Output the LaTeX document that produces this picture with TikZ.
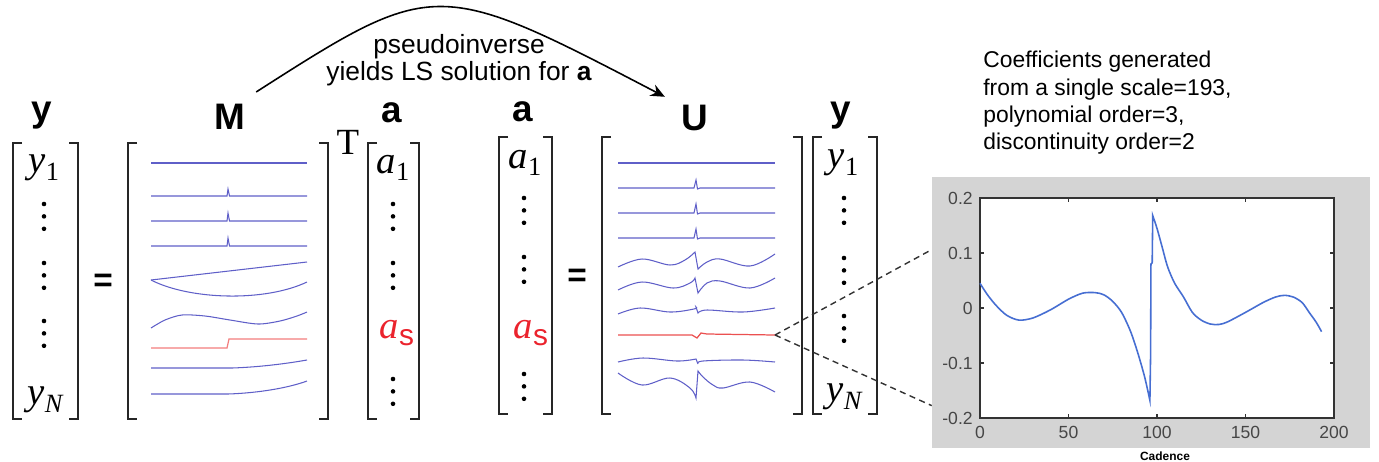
\documentclass[tikz,border=0pt]{standalone}
\usepackage{fontspec}
\setmainfont{Liberation Sans}
\newfontfamily\tms{Liberation Serif}
\usetikzlibrary{arrows.meta}

\definecolor{rowblue}{RGB}{95,95,200}
\definecolor{mred}{RGB}{242,125,125}
\definecolor{ured}{RGB}{235,80,80}
\definecolor{asred}{RGB}{235,35,45}
\definecolor{plotblue}{RGB}{70,110,210}
\definecolor{boxgray}{RGB}{212,212,212}
\definecolor{ticktext}{RGB}{70,70,70}

\newcommand{\vent}[2]{#1\raisebox{-0.2em}{\fontsize{15}{15}\selectfont\upshape #2}}
\newcommand{\vbrackets}[4]{%
  \draw[brk] (#1+9,#3) -- (#1,#3) -- (#1,#4) -- (#1+9,#4);
  \draw[brk] (#2-9,#3) -- (#2,#3) -- (#2,#4) -- (#2-9,#4);}
\newcommand{\vdotcol}[2]{%
  \foreach \k in {0,1,2} \fill (#1,#2+12.4*\k) circle (1.3pt);}

\tikzset{
  brk/.style={line width=1.6pt, black!85, line join=miter},
  lab/.style={font=\bfseries\fontsize{21}{21}\selectfont, inner sep=0pt},
  ent/.style={font=\tms\itshape\fontsize{22}{22}\selectfont, inner sep=0pt},
  eqsign/.style={font=\bfseries\fontsize{19}{19}\selectfont, inner sep=0pt},
  mrow/.style={rowblue, line width=0.6pt},
  arr/.style={-{Stealth[length=8pt,width=7pt]}, line width=0.9pt},
  dashln/.style={black!80, line width=0.8pt, dash pattern=on 3.5pt off 2.5pt},
  axisline/.style={black!80, line width=0.6pt},
  ticklab/.style={font=\fontsize{10}{10}\selectfont, text=ticktext, inner sep=0pt},
  plotline/.style={plotblue, line width=0.9pt}
}

\begin{document}
\begin{tikzpicture}[x=0.02cm, y=-0.02cm]
\useasboundingbox (0,0) rectangle (1379,461);

% labels over the vectors
\node[lab] (yL)   at (42,116)  {y};
\node[lab] (Mlab) at (230,117) {M};
\node[lab] (aL)   at (392,113) {a};
\node[lab] (aR)   at (523,112) {a};
\node[lab] (Ulab) at (695,118) {U};
\node[lab] (yR)   at (841,116) {y};

% brackets
\vbrackets{13}{78}{143}{419}
\vbrackets{128}{328}{143}{419}
\vbrackets{368}{419}{143}{419}
\vbrackets{499}{552}{137}{414}
\vbrackets{602}{802}{137}{414}
\vbrackets{813}{877}{137}{414}

\node[eqsign] (eqL) at (103,283) {=};
\node[eqsign] (eqR) at (577,278) {=};
\node[font=\tms\fontsize{21}{21}\selectfont, inner sep=0pt] (Tsup) at (348,142) {T};

% y on the left
\node[ent] (y1L) at (44,168) {\vent{y}{1}};
\vdotcol{44}{204}
\vdotcol{44}{263}
\vdotcol{44}{321}
\node[ent] (yNL) at (45,400) {\vent{y}{\itshape N}};

% a after M^T
\node[ent] (a1L) at (393,168) {\vent{a}{1}};
\vdotcol{393}{204}
\vdotcol{393}{263}
\node[ent, text=asred] (asL) at (397,333) {\vent{a}{\rmfamily\fontsize{17}{17}\selectfont s}};
\vdotcol{393}{379}

% a before U
\node[ent] (a1R) at (525,163) {\vent{a}{1}};
\vdotcol{524}{198}
\vdotcol{524}{257}
\node[ent, text=asred] (asR) at (531,333) {\vent{a}{\rmfamily\fontsize{17}{17}\selectfont s}};
\vdotcol{524}{374}

% y on the right
\node[ent] (y1R) at (843,163) {\vent{y}{1}};
\vdotcol{844}{198}
\vdotcol{844}{258}
\vdotcol{844}{316}
\node[ent] (yNR) at (844,397) {\vent{y}{\itshape N}};

% rows of M
\draw[mrow] (151,163) -- (307,163);
\foreach \yy/\h in {196/7, 221/8, 246/8}
  \draw[mrow] (151,\yy) -- (227,\yy) -- (228,\yy-\h) -- (229.5,\yy) -- (307,\yy);
\draw[mrow] (151,280) -- (307,262);
\draw[mrow] (151,280) .. controls (190,300) and (265,302) .. (307,282);
\draw[mrow] plot[smooth] coordinates {(151,328) (165,320) (182,315) (205,316) (230,320) (258,324) (280,321) (297,316) (307,312)};
\draw[mred, line width=0.7pt] (151,348) -- (227,348) -- (229,339) -- (307,339);
\draw[mrow] (151,368) -- (232,368) .. controls (262,367) and (290,363) .. (307,360);
\draw[mrow] (151,394) -- (228,394) .. controls (258,393) and (288,388) .. (307,381);

% rows of U
\draw[mrow] (618,163) -- (775,163);
\foreach \yy/\h in {188/8, 213/9, 238/9}
  \draw[mrow] (618,\yy) -- (694,\yy) -- (696,\yy-\h) -- (697.5,\yy+1) -- (700,\yy) -- (775,\yy);
\draw[mrow] plot[smooth, tension=0.6] coordinates {(618,267) (642,259) (670,265) (685,260) (695,252)}
  -- plot[smooth, tension=0.6] coordinates {(698,269) (707,262) (720,259) (750,266) (775,254)};
\draw[mrow] plot[smooth, tension=0.6] coordinates {(618,290) (642,282) (673,288) (690,283) (695,278)}
  -- plot[smooth, tension=0.6] coordinates {(698,293) (707,283) (720,281) (750,288) (775,278)};
\draw[mrow] plot[smooth, tension=0.6] coordinates {(618,314) (640,308) (670,312) (694,309) (696,307)}
  -- plot[smooth, tension=0.6] coordinates {(698,313) (707,310) (743,312) (775,308)};
\draw[ured, line width=0.7pt] (618,335) -- (692,335) -- (697,338) -- (701,333) -- (707,334) -- (775,335);
\coordinate (Uend) at (775,335);
\draw[mrow] plot[smooth, tension=0.6] coordinates {(618,362) (643,358) (677,361) (696,359)}
  -- plot[smooth, tension=0.6] coordinates {(698,364) (703,361) (743,360) (775,362)};
\draw[mrow] plot[smooth, tension=0.6] coordinates {(618,373) (642,385) (670,378) (690,388) (696,398)}
  -- plot[smooth, tension=0.6] coordinates {(698,371) (703,377) (713,385) (723,388) (750,382) (775,392)};

% pseudoinverse arrow
\draw[arr] ([shift={(10.5,-12)}]Mlab.north east) .. controls +(178,-114) and +(-228,-119) .. ([shift={(-16.5,-8)}]Ulab.north west);
\node[font=\fontsize{15}{15.3}\selectfont, align=center, inner sep=0pt, anchor=north] (pinv) at (459,34)
  {pseudoinverse\\yields LS solution for \textbf{a}};

% note
\node[font=\fontsize{13}{15.5}\selectfont, align=left, anchor=north west, inner sep=0pt] (note) at (983,51)
  {Coefficients generated\\from a single scale=193,\\polynomial order=3,\\discontinuity order=2};

% inset plot
\node[fill=boxgray, minimum width=8.76cm, minimum height=5.42cm, inner sep=0pt] (plotbg) at (1151,312.5) {};
\draw[dashln] (Uend) -- (plotbg.164);
\draw[dashln] (Uend) -- (plotbg.203);
\fill[white] (980,198) rectangle (1334,418);
\draw[axisline] (980,198) rectangle (1334,418);
\foreach \px/\lab in {980/0, 1068.5/50, 1157/100, 1245.5/150, 1334/200} {
  \draw[axisline] (\px,418) -- (\px,414);
  \draw[axisline] (\px,198) -- (\px,202);
  \node[ticklab, anchor=north] (xt\lab) at (\px,426) {\lab};
}
\foreach \py/\lab [count=\i] in {198/0.2, 253/0.1, 308/0, 363/-0.1, 418/-0.2} {
  \draw[axisline] (980,\py) -- (984,\py);
  \draw[axisline] (1334,\py) -- (1330,\py);
  \node[ticklab, anchor=east] (yt\i) at (973,\py) {\lab};
}
\node[font=\bfseries\fontsize{6.8}{7}\selectfont, inner sep=0pt] (cad) at (1165,456) {Cadence};
\begin{scope}[shift={(980,308)}, x=0.0354cm, y=11cm]
\draw[plotline] plot[smooth] coordinates {(0,0.045) (4,0.025) (9,0.005) (15,-0.013) (22,-0.022) (30,-0.018) (40,-0.003) (50,0.016) (58,0.027) (65,0.028) (70,0.024) (75,0.012) (80,-0.008) (85,-0.042) (89,-0.08) (93,-0.125) (96,-0.168)}
  -- (96.4,-0.085) -- (96.6,0.08) -- (97.3,0.082)
  -- plot[smooth] coordinates {(97.6,0.168) (100,0.145) (103,0.11) (106,0.075) (110,0.045) (115,0.02) (120,-0.008) (125,-0.022) (130,-0.029) (135,-0.03) (140,-0.025) (150,-0.008) (160,0.01) (167,0.02) (172,0.023) (177,0.02) (182,0.01) (186,-0.008) (190,-0.026) (193,-0.043)};
\end{scope}
\end{tikzpicture}
\end{document}
